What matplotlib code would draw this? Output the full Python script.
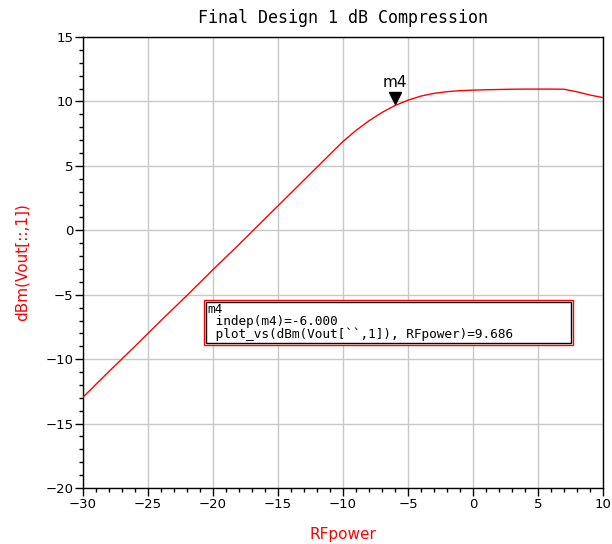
import numpy as np
import matplotlib
matplotlib.use("Agg")
import matplotlib.pyplot as plt
from matplotlib.ticker import MultipleLocator

# RF input power sweep (dBm) and output power
rf_power = [-30, -28, -26, -24, -22, -20, -18, -16, -14, -12, -11, -10, -9, -8, -7, -6,
            -5, -4, -3, -2, -1, 0, 1, 2, 3, 4, 5, 6, 7, 8, 9, 10]
vout_dbm = [-12.95, -10.95, -9.0, -7.0, -5.05, -3.05, -1.1, 0.9, 2.9, 4.9, 5.9, 6.9, 7.75, 8.5, 9.15, 9.686,
            10.1, 10.42, 10.63, 10.76, 10.84, 10.88, 10.91, 10.93, 10.95, 10.96, 10.96, 10.96, 10.95, 10.75, 10.5, 10.3]

marker_name = "m4"
marker_x = -6.0
marker_y = 9.686

red = "#ff0000"

fig = plt.figure(figsize=(6.12, 5.44), dpi=100)
ax = fig.add_axes([0.1356, 0.1029, 0.8497, 0.829])

ax.plot(rf_power, vout_dbm, color=red, lw=1.0, zorder=3)

ax.set_xlim(-30, 10)
ax.set_ylim(-20, 15)
ax.xaxis.set_major_locator(MultipleLocator(5))
ax.yaxis.set_major_locator(MultipleLocator(5))
ax.xaxis.set_minor_locator(MultipleLocator(1))
ax.yaxis.set_minor_locator(MultipleLocator(1))
ax.grid(True, which="major", color="#c8c8c8", lw=1.0, zorder=0)
ax.tick_params(which="major", direction="out", length=6, width=1, labelsize=9.5, pad=1)
ax.tick_params(which="minor", direction="out", length=3, width=1)
for s in ax.spines.values():
    s.set_linewidth(1.0)
    s.set_color("black")

ax.set_title("Final Design 1 dB Compression", family="DejaVu Sans Mono",
             fontsize=12, pad=10)
ax.set_xlabel("RFpower", color=red, fontsize=11, labelpad=12)
ax.set_ylabel("dBm(Vout[::,1])", color=red, fontsize=11, labelpad=11)

# marker triangle and name
ax.plot([marker_x], [marker_y + 0.55], marker="v", color="black", ms=9, zorder=4)
ax.text(marker_x, marker_y + 1.2, marker_name, ha="center", va="bottom", fontsize=11, zorder=4)

# marker readout box
box_lines = [
    marker_name,
    " indep(%s)=%.3f" % (marker_name, marker_x),
    " plot_vs(dBm(Vout[``,1]), RFpower)=%.3f" % marker_y,
]
outer = plt.Rectangle((0.233, 0.317), 0.710, 0.101, transform=ax.transAxes,
                      fill=True, facecolor="white", edgecolor=red, lw=1.0, zorder=5)
inner = plt.Rectangle((0.237, 0.322), 0.702, 0.091, transform=ax.transAxes,
                      fill=False, edgecolor="black", lw=1.0, zorder=6)
ax.add_patch(outer)
ax.add_patch(inner)
for i, line in enumerate(box_lines):
    ax.text(0.240, 0.410 - i * 0.0265, line, transform=ax.transAxes, va="top", ha="left",
            family="DejaVu Sans Mono", fontsize=9.2, zorder=7)

fig.savefig("out.png", dpi=100)
